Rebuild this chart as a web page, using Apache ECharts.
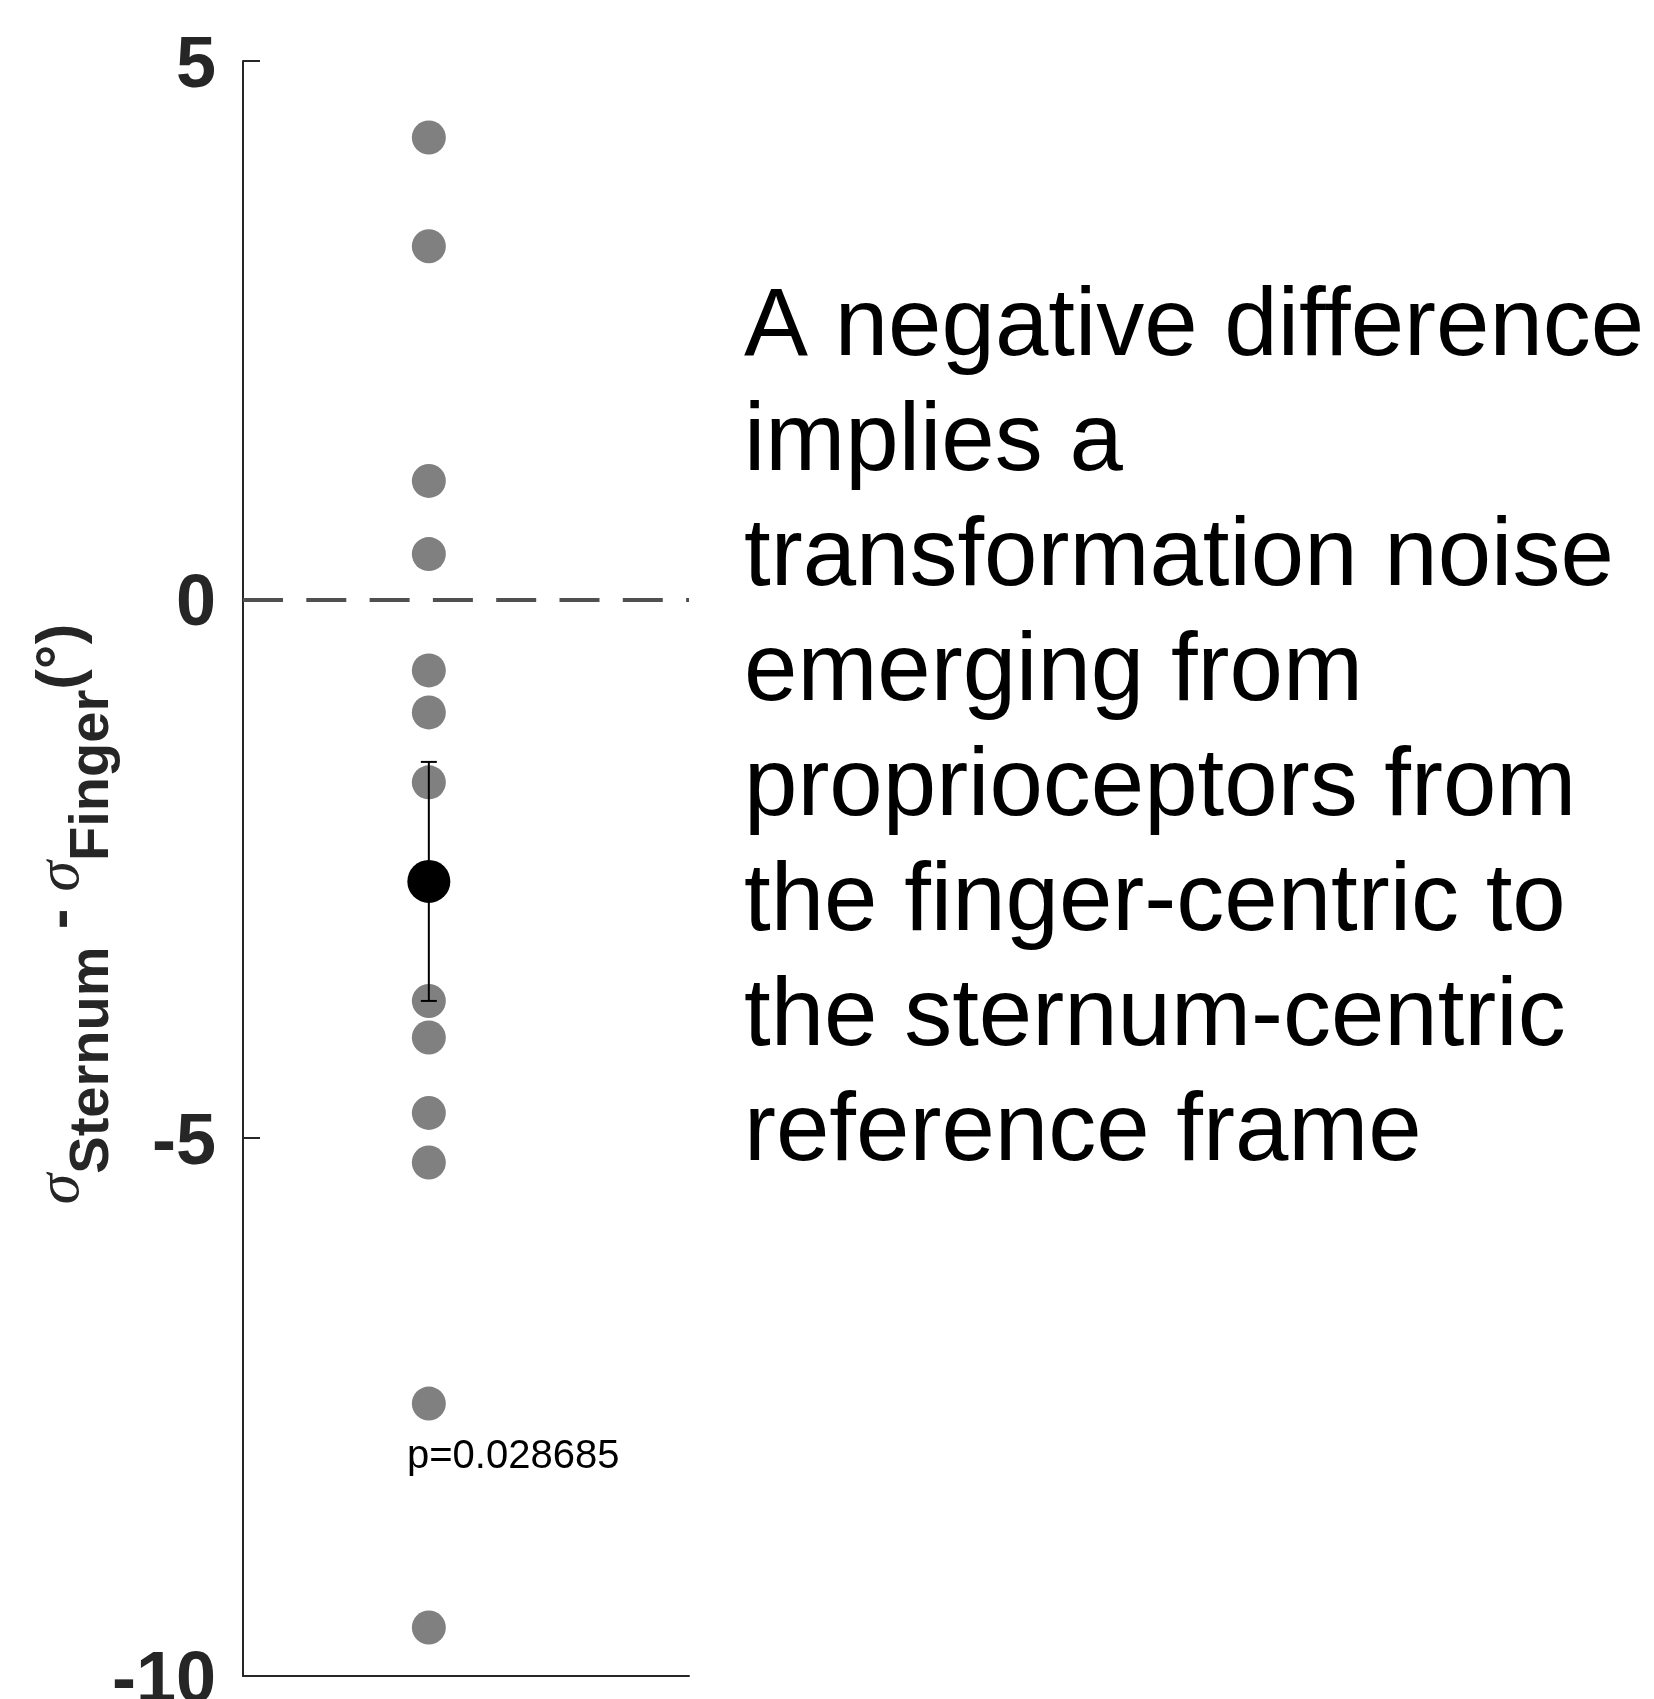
<!DOCTYPE html>
<html>
<head>
<meta charset="utf-8">
<script src="https://cdn.jsdelivr.net/npm/echarts@6/dist/echarts.min.js"></script>
<style>
  html, body { margin: 0; padding: 0; background: #fff; }
  #main { width: 1654px; height: 1699px; }
</style>
</head>
<body>
<div id="main"></div>
<script>
// individual subject differences (deg)
var diffValues = [4.29, 3.28, 1.10, 0.42, -0.66, -1.05, -1.70, -3.73, -4.07, -4.77, -5.23, -7.47, -9.55];
// group mean and error bar half width
var meanValue = [-2.62];
var errHalf = [1.11];
var yTicks = [-10, -5, 0, 5];
var groupX = 1;
var pLabel = 'p=0.028685';
var noteLines = [
    'A negative difference',
    'implies a',
    'transformation noise',
    'emerging from',
    'proprioceptors from',
    'the finger-centric to',
    'the sternum-centric',
    'reference frame'
];

var axisColor = '#262626';

var chart = echarts.init(document.getElementById('main'));

var pointData = diffValues.map(function (v) { return [groupX, v]; });
var meanData = meanValue.map(function (v) { return [groupX, v]; });
var errData = meanValue.map(function (v, i) { return [groupX, v - errHalf[i], v + errHalf[i]]; });

chart.setOption({
    backgroundColor: '#fff',
    animation: false,
    grid: { left: 243, top: 61, right: 965, bottom: 23, outerBoundsMode: 'none', containLabel: false },
    xAxis: {
        type: 'value',
        min: 0.5,
        max: 1.7,
        axisLine: { show: true, onZero: false, lineStyle: { color: axisColor, width: 2 } },
        axisTick: { show: false },
        axisLabel: { show: false },
        splitLine: { show: false }
    },
    yAxis: {
        type: 'value',
        min: yTicks[0],
        max: yTicks[yTicks.length - 1],
        interval: 5,
        axisLine: { show: true, onZero: false, lineStyle: { color: axisColor, width: 2 } },
        axisTick: { show: true, inside: true, length: 17, lineStyle: { color: axisColor, width: 2 } },
        axisLabel: {
            margin: 27,
            color: axisColor,
            fontFamily: 'Liberation Sans',
            fontWeight: 'bold',
            fontSize: 72,
            verticalAlign: 'top',
            lineHeight: 12
        },
        splitLine: { show: false }
    },
    series: [
        {
            type: 'scatter',
            data: pointData,
            symbol: 'circle',
            symbolSize: 34,
            itemStyle: { color: '#808080', opacity: 1 },
            markLine: {
                silent: true,
                symbol: ['none', 'none'],
                label: { show: false },
                lineStyle: { color: '#505050', width: 4, type: [40, 23.3], opacity: 1 },
                data: [{ yAxis: 0 }]
            },
            z: 2
        },
        {
            type: 'custom',
            data: errData,
            renderItem: function (params, api) {
                var lo = api.coord([api.value(0), api.value(1)]);
                var hi = api.coord([api.value(0), api.value(2)]);
                var half = 8;
                var st = { stroke: '#000', lineWidth: 2 };
                return {
                    type: 'group',
                    children: [
                        { type: 'line', shape: { x1: lo[0], y1: lo[1], x2: hi[0], y2: hi[1] }, style: st },
                        { type: 'line', shape: { x1: lo[0] - half, y1: lo[1], x2: lo[0] + half, y2: lo[1] }, style: st },
                        { type: 'line', shape: { x1: hi[0] - half, y1: hi[1], x2: hi[0] + half, y2: hi[1] }, style: st }
                    ]
                };
            },
            z: 3
        },
        {
            type: 'scatter',
            data: meanData,
            symbol: 'circle',
            symbolSize: 43,
            itemStyle: { color: '#000', opacity: 1 },
            z: 4
        }
    ],
    graphic: [
        {
            type: 'text',
            x: 76,
            y: 914,
            rotation: Math.PI / 2,
            style: {
                text: '{sig|σ}{sub|Sternum}{main| - }{sig|σ}{sub|Finger}{main|(°)}',
                align: 'center',
                verticalAlign: 'middle',
                fill: axisColor,
                rich: {
                    sig: { fontFamily: 'Liberation Serif', fontStyle: 'italic', fontSize: 62, lineHeight: 90, verticalAlign: 'top', fill: axisColor },
                    main: { fontFamily: 'Liberation Sans', fontWeight: 'bold', fontSize: 62, lineHeight: 90, verticalAlign: 'top', fill: axisColor },
                    sub: { fontFamily: 'Liberation Sans', fontWeight: 'bold', fontSize: 56, lineHeight: 90, verticalAlign: 'bottom', fill: axisColor }
                }
            }
        },
        {
            type: 'text',
            x: 407,
            y: 1457,
            style: {
                text: pLabel,
                fontFamily: 'Liberation Sans',
                fontSize: 40,
                fill: '#000',
                align: 'left',
                verticalAlign: 'middle'
            }
        },
        {
            type: 'text',
            x: 744,
            y: 271,
            style: {
                text: noteLines.join('\n'),
                fontFamily: 'Liberation Sans',
                fontSize: 96,
                lineHeight: 115,
                fill: '#000',
                align: 'left',
                verticalAlign: 'top'
            }
        }
    ]
});
</script>
</body>
</html>
